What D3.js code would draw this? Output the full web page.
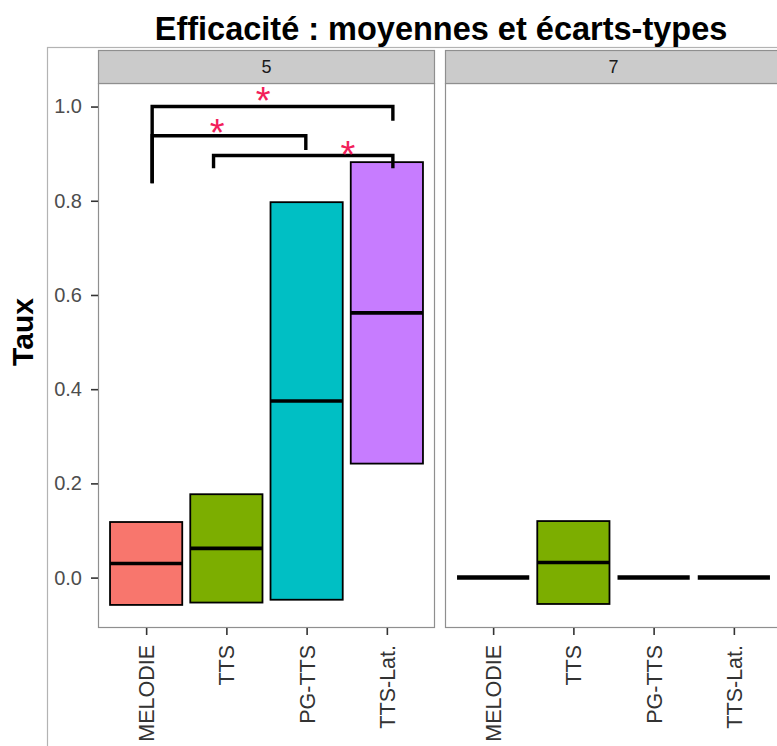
<!DOCTYPE html>
<html><head><meta charset="utf-8">
<script src="https://cdn.jsdelivr.net/npm/d3@7"></script>
<style>body{margin:0;background:#fff}svg{display:block}</style>
</head><body>
<script>
const categories = ["MELODIE", "TTS", "PG-TTS", "TTS-Lat."];
const facets = ["5", "7"];
const means5 = [0.030, 0.062, 0.375, 0.562];
const sds5   = [0.088, 0.115, 0.422, 0.320];
const means7 = [0.000, 0.032, 0.000, 0.000];
const sds7   = [0.000, 0.088, 0.000, 0.000];
const colors = ["#F8766D", "#7CAE00", "#00BFC4", "#C77CFF"];
const yTicks = [0.0, 0.2, 0.4, 0.6, 0.8, 1.0];
// significance brackets in panel "5" (x in category index units, 1-based)
const bracketX1 = [1.075, 1.075, 1.84];
const bracketX2 = [4.075, 2.99, 4.075];
const bracketY  = [1.000, 0.938, 0.896];
const bracketYL = [0.837, 0.837, 0.869];
const bracketYR = [0.970, 0.908, 0.869];
const starX = [2.457, 1.886, 3.513];
const starY = [1.028, 0.961, 0.915];
const title = "Efficacité : moyennes et écarts-types";
const yLabel = "Taux";

const W = 777, H = 746;
const svg = d3.select("body").append("svg").attr("width", W).attr("height", H)
  .style("font-family", "'Liberation Sans', Arial, sans-serif");

// outer frame
svg.append("rect").attr("x", 47.5).attr("y", 47.5).attr("width", 800).attr("height", 800)
  .attr("fill", "none").attr("stroke", "#b3b3b3").attr("stroke-width", 1.2);

const panelTop = 83, panelBottom = 628, stripTop = 50;
const panelX = [[98, 435], [445, 782]];
const y = d3.scaleLinear().domain([-0.107, 1.050]).range([panelBottom, panelTop]);

const data = [
  {means: means5, sds: sds5},
  {means: means7, sds: sds7}
];

facets.forEach((f, pi) => {
  const [x0, x1] = panelX[pi];
  const xs = d3.scalePoint().domain(categories).range([x0, x1]).padding(0.6);
  const xNum = d3.scaleLinear().domain([0.4, 4.6]).range([x0, x1]);
  const bw = xs.step() * 0.9;
  const g = svg.append("g");
  // panel
  g.append("rect").attr("x", x0 + 0.5).attr("y", panelTop + 0.5).attr("width", x1 - x0 - 1).attr("height", panelBottom - panelTop - 1)
    .attr("fill", "#fff").attr("stroke", "#8f8f8f").attr("stroke-width", 1.2);
  // strip
  g.append("rect").attr("x", x0 + 0.5).attr("y", stripTop + 0.5).attr("width", x1 - x0 - 1).attr("height", panelTop - stripTop)
    .attr("fill", "#cbcbcb").attr("stroke", "#8f8f8f").attr("stroke-width", 1.2);
  g.append("text").attr("x", (x0 + x1) / 2).attr("y", (stripTop + panelTop) / 2 + 6)
    .attr("text-anchor", "middle").attr("font-size", 18).attr("fill", "#1a1a1a").text(f);

  const d = data[pi];
  categories.forEach((c, i) => {
    const m = d.means[i], s = d.sds[i];
    const cx = xs(c);
    g.append("rect").attr("x", cx - bw / 2).attr("y", y(m + s)).attr("width", bw)
      .attr("height", Math.max(0, y(m - s) - y(m + s)))
      .attr("fill", colors[i]).attr("stroke", "#000").attr("stroke-width", 1.8);
    g.append("line").attr("x1", cx - bw / 2).attr("x2", cx + bw / 2).attr("y1", y(m)).attr("y2", y(m))
      .attr("stroke", "#000").attr("stroke-width", s === 0 ? 4.5 : 3.6);
  });

  // x axis
  const xa = g.append("g").attr("transform", `translate(0,${panelBottom})`)
    .call(d3.axisBottom(xs).tickSize(7).tickSizeOuter(0));
  xa.select(".domain").remove();
  xa.selectAll(".tick line").attr("stroke", "#333").attr("stroke-width", 1.6);
  xa.selectAll(".tick text").attr("transform", "rotate(-90)").attr("text-anchor", "end")
    .attr("x", -17).attr("y", 0).attr("dy", "0.35em")
    .attr("font-size", 21.5).attr("fill", "#333").style("font-family", "'Liberation Sans', Arial, sans-serif");

  if (pi === 0) {
    const ya = g.append("g").attr("transform", `translate(${x0},0)`)
      .call(d3.axisLeft(y).tickValues(yTicks).tickFormat(d3.format(".1f")).tickSize(7).tickPadding(9).tickSizeOuter(0));
    ya.select(".domain").remove();
    ya.selectAll(".tick line").attr("stroke", "#333").attr("stroke-width", 1.6);
    ya.selectAll(".tick text").attr("font-size", 20).attr("fill", "#4d4d4d")
      .style("font-family", "'Liberation Sans', Arial, sans-serif");

    bracketX1.forEach((bx1, k) => {
      const p = d3.path();
      p.moveTo(xNum(bx1), y(bracketYL[k]));
      p.lineTo(xNum(bx1), y(bracketY[k]));
      p.lineTo(xNum(bracketX2[k]), y(bracketY[k]));
      p.lineTo(xNum(bracketX2[k]), y(bracketYR[k]));
      g.append("path").attr("d", p.toString()).attr("fill", "none")
        .attr("stroke", "#000").attr("stroke-width", 3.4);
    });
    starX.forEach((sx, k) => {
      g.append("text").attr("x", xNum(sx)).attr("y", y(starY[k]) + 21)
        .attr("text-anchor", "middle").attr("font-size", 38).attr("fill", "#f2205a").text("*");
    });
  }
});

// title
svg.append("text").attr("x", 441).attr("y", 40).attr("text-anchor", "middle")
  .attr("font-weight", "bold").attr("font-size", 32.5).attr("fill", "#000").text(title);
// y label
svg.append("text").attr("transform", "translate(33,332) rotate(-90)").attr("text-anchor", "middle")
  .attr("font-weight", "bold").attr("font-size", 30).attr("fill", "#000").text(yLabel);
</script>
</body></html>
